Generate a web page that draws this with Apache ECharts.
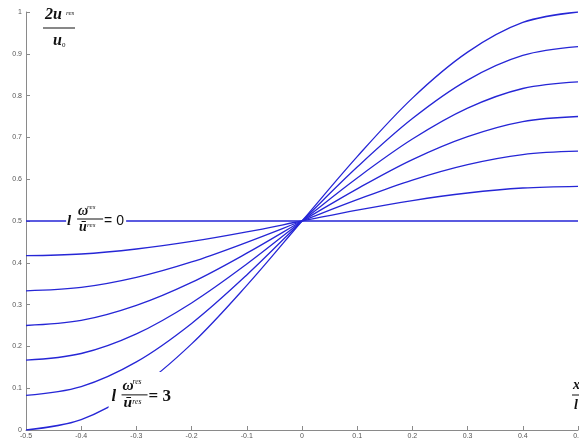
<!DOCTYPE html>
<html>
<head>
<meta charset="utf-8">
<script src="https://cdn.jsdelivr.net/npm/echarts@6/dist/echarts.min.js"></script>
<style>
  html, body { margin: 0; padding: 0; background: #fff; }
  #chart { width: 579px; height: 443px; }
</style>
</head>
<body>
<div id="chart"></div>
<script>
// x / l positions where the curves were read
const xValues = [-0.5, -0.4, -0.3, -0.2, -0.1, 0, 0.1, 0.2, 0.3, 0.4, 0.5];

// 2u/u0, from the flat line (l*w/u = 0) up to l*w/u = 3
const curve0 = [0.5, 0.5, 0.5, 0.5, 0.5, 0.5, 0.5, 0.5, 0.5, 0.5, 0.5];
const curve1 = [0.417, 0.421, 0.433, 0.451, 0.474, 0.5, 0.526, 0.549, 0.567, 0.579, 0.583];
const curve2 = [0.333, 0.341, 0.365, 0.402, 0.449, 0.5, 0.551, 0.598, 0.635, 0.659, 0.667];
const curve3 = [0.25, 0.262, 0.298, 0.353, 0.423, 0.5, 0.577, 0.647, 0.702, 0.738, 0.75];
const curve4 = [0.167, 0.183, 0.23, 0.304, 0.397, 0.5, 0.603, 0.696, 0.77, 0.817, 0.833];
const curve5 = [0.083, 0.104, 0.163, 0.255, 0.371, 0.5, 0.629, 0.745, 0.837, 0.896, 0.917];
const curve6 = [0, 0.025, 0.096, 0.206, 0.346, 0.5, 0.654, 0.794, 0.904, 0.975, 1];

const curves = [curve0, curve1, curve2, curve3, curve4, curve5, curve6];

const lineColor = '#2626d6';
const serif = '"Liberation Serif", "DejaVu Serif", serif';

const chart = echarts.init(document.getElementById('chart'));

const fmt = function (v) {
  return String(Math.round(v * 10) / 10);
};

const option = {
  animation: false,
  backgroundColor: '#fff',
  grid: {
    left: 26,
    right: 1,
    top: 12,
    bottom: 13,
    outerBoundsMode: 'none'
  },
  xAxis: {
    type: 'value',
    min: -0.5,
    max: 0.5,
    interval: 0.1,
    splitLine: { show: false },
    axisLine: { onZero: false, lineStyle: { color: '#8a8a8a', width: 1 } },
    // 刻度朝里
    axisTick: { inside: true, length: 4, lineStyle: { color: '#8a8a8a' } },
    axisLabel: {
      formatter: fmt,
      fontSize: 7,
      color: '#555',
      margin: 3,
      fontFamily: '"Liberation Sans", Arial, sans-serif'
    }
  },
  yAxis: {
    type: 'value',
    min: 0,
    max: 1,
    interval: 0.1,
    splitLine: { show: false },
    axisLine: { show: true, onZero: false, lineStyle: { color: '#8a8a8a', width: 1 } },
    axisTick: { show: true, inside: true, length: 4, lineStyle: { color: '#8a8a8a' } },
    axisLabel: {
      formatter: fmt,
      fontSize: 7,
      color: '#555',
      margin: 4,
      fontFamily: '"Liberation Sans", Arial, sans-serif'
    }
  },
  series: curves.map(function (c) {
    return {
      type: 'line',
      data: xValues.map(function (x, i) { return [x, c[i]]; }),
      smooth: 0.35,
      showSymbol: false,
      silent: true,
      lineStyle: { color: lineColor, width: 1.3 }
    };
  })
};
chart.setOption(option);

// l * w^res / u^res = k, drawn as a small fraction; (ax, ay) = left of "l", fraction bar height
function ratioLabel(ax, ay, k, rhs, rhsFont, cover) {
  const f = function (size) { return 'italic bold ' + size + 'px ' + serif; };
  const fs = function (size) { return 'italic ' + size + 'px ' + serif; };
  return [
    { type: cover.type, shape: cover.shape, style: { fill: '#fff' }, z: 50 },
    { type: 'text', z: 51, style: { text: 'l', x: ax, y: ay + 2, font: f(15 * k), fill: '#111', textVerticalAlign: 'middle' } },
    { type: 'text', z: 51, style: { text: 'ω', x: ax + 11, y: ay - 1, font: f(14 * k), fill: '#111', textVerticalAlign: 'bottom' } },
    { type: 'text', z: 51, style: { text: 'res', x: ax + 11 + 9 * k, y: ay - 12 * k, font: fs(7 * k), fill: '#111', textVerticalAlign: 'middle' } },
    { type: 'line', z: 51, shape: { x1: ax + 10, y1: ay, x2: ax + 36, y2: ay }, style: { stroke: '#111', lineWidth: 1 } },
    { type: 'text', z: 51, style: { text: 'ū', x: ax + 12, y: ay + 1, font: f(14 * k), fill: '#111', textVerticalAlign: 'top' } },
    { type: 'text', z: 51, style: { text: 'res', x: ax + 12 + 8 * k, y: ay + 6 * k, font: fs(7 * k), fill: '#111', textVerticalAlign: 'middle' } },
    { type: 'text', z: 51, style: { text: rhs, x: ax + 37, y: ay + 2, font: rhsFont, fill: '#111', textVerticalAlign: 'middle' } }
  ];
}

const p0 = chart.convertToPixel({ gridIndex: 0 }, [-0.4255, 0.5]);
const p3 = chart.convertToPixel({ gridIndex: 0 }, [-0.345, 0.084]);
const topLeft = chart.convertToPixel({ gridIndex: 0 }, [-0.5, 1]);
const botRight = chart.convertToPixel({ gridIndex: 0 }, [0.5, 0]);

const a0x = p0[0], a0y = p0[1] - 2;
const a3x = p3[0], a3y = p3[1];

let elements = []
elements = elements.concat(ratioLabel(a0x, a0y, 1, '= 0', '14px "Liberation Sans", Arial, sans-serif', {
  type: 'rect', shape: { x: a0x - 1, y: a0y - 17, width: 60, height: 34 }
}));
elements = elements.concat(ratioLabel(a3x, a3y, 1.1, '= 3', 'bold 17px ' + serif, {
  type: 'polygon', shape: { points: [[a3x - 3, a3y + 20], [a3x - 3, a3y - 9], [a3x + 38, a3y - 23], [a3x + 58, a3y - 23], [a3x + 58, a3y + 20]] }
}));

// 2u^res / u0 in the top-left corner
const tx = topLeft[0], ty = topLeft[1];
elements.push(
  { type: 'text', style: { text: '2u', x: tx + 19, y: ty + 11, font: 'italic bold 16px ' + serif, fill: '#111', textVerticalAlign: 'bottom' } },
  { type: 'text', style: { text: 'res', x: tx + 40, y: ty + 1, font: 'italic 7px ' + serif, fill: '#111', textVerticalAlign: 'middle' } },
  { type: 'line', shape: { x1: tx + 17, y1: ty + 16, x2: tx + 49, y2: ty + 16 }, style: { stroke: '#111', lineWidth: 1 } },
  { type: 'text', style: { text: 'u', x: tx + 27, y: ty + 21, font: 'italic bold 16px ' + serif, fill: '#111', textVerticalAlign: 'top' } },
  { type: 'text', style: { text: '0', x: tx + 36, y: ty + 33, font: '7px ' + serif, fill: '#111', textVerticalAlign: 'middle' } }
);

// x / l at the bottom right
const bx = botRight[0], by = botRight[1];
elements.push(
  { type: 'text', style: { text: 'x', x: bx - 5, y: by - 38, font: 'italic bold 14px ' + serif, fill: '#111', textVerticalAlign: 'bottom' } },
  { type: 'line', shape: { x1: bx - 6, y1: by - 35, x2: bx + 2, y2: by - 35 }, style: { stroke: '#111', lineWidth: 1 } },
  { type: 'text', style: { text: 'l', x: bx - 4, y: by - 32, font: 'italic bold 14px ' + serif, fill: '#111', textVerticalAlign: 'top' } }
);

chart.setOption({ graphic: { elements: elements } });
</script>
</body>
</html>
